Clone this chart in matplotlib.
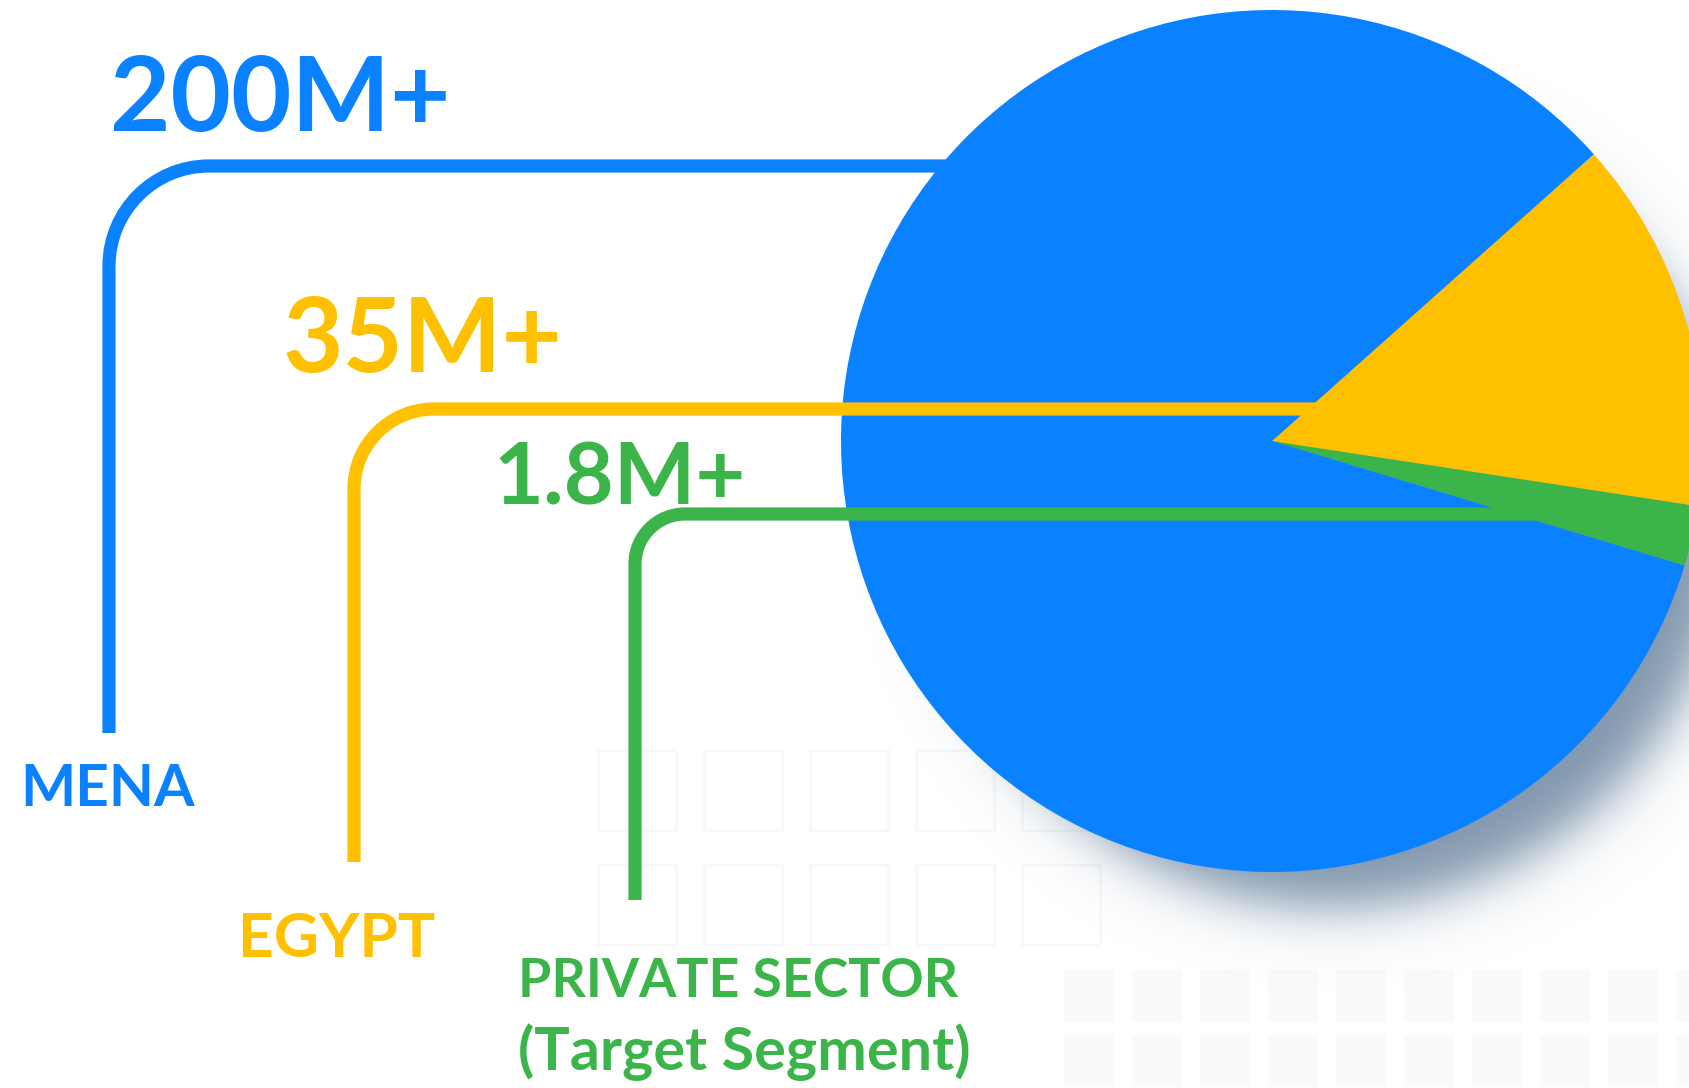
#!/usr/bin/env python3
"""Market size funnel: MENA -> Egypt -> private sector, with a pie on the right."""

import numpy as np
import matplotlib.pyplot as plt
from matplotlib.path import Path
from matplotlib.patches import PathPatch, Rectangle

W, H = 1690, 1088

segments = ["MENA", "EGYPT", "PRIVATE SECTOR"]
segment_notes = ["", "", "(Target Segment)"]
figures = ["200M+", "35M+", "1.8M+"]

# pie slices as drawn (degrees), counter-clockwise from the start angle
slice_names = ["PRIVATE SECTOR", "EGYPT", "MENA"]
slice_degrees = [8.1, 50.4, 301.5]
start_angle = -16.8

BLUE = "#0a82ff"
YELLOW = "#ffc000"
GREEN = "#3bb54a"
seg_colors = [BLUE, YELLOW, GREEN]
slice_colors = [GREEN, YELLOW, BLUE]

plt.rcParams["font.family"] = ["Lato", "DejaVu Sans"]


def Y(y):
    # image rows (top-down) to data coords (bottom-up)
    return H - y


def connector(x, y_bottom, y_top, x_end, r):
    k = 0.5523 * r
    verts = [(x, Y(y_bottom)), (x, Y(y_top + r)),
             (x, Y(y_top + r - k)), (x + r - k, Y(y_top)), (x + r, Y(y_top)),
             (x_end, Y(y_top))]
    codes = [Path.MOVETO, Path.LINETO, Path.CURVE4, Path.CURVE4, Path.CURVE4, Path.LINETO]
    return Path(verts, codes)


fig = plt.figure(figsize=(W / 100, H / 100), dpi=100)
ax = fig.add_axes([0, 0, 1, 1])
fig.patch.set_facecolor("white")

# faint circuit-board background
for row in (970, 1035):
    for x0 in np.arange(1064, W, 68):
        ax.add_patch(Rectangle((x0, Y(row + 52)), 50, 52, facecolor="#f9fafb",
                               edgecolor="none", zorder=0))
for top in (750, 865):
    for x0 in np.arange(598, 1100, 106):
        ax.add_patch(Rectangle((x0, Y(top + 80)), 78, 80, facecolor="none",
                               edgecolor="#f7f8f9", linewidth=2, zorder=0))

# pie geometry (pixels)
cx, cy, R = 1272, 441, 431

# soft drop shadow, bottom right
xs = np.arange(780, W) + 0.5
ys = np.arange(0, H) + 0.5
gx, gy = np.meshgrid(xs, ys)
d = np.hypot(gx - (cx + 60), gy - (cy + 70))
alpha = 0.8 * 0.5 * (1 - np.tanh((d - (R - 35)) / 32))
shadow = np.zeros(gx.shape + (4,))
shadow[..., 0], shadow[..., 1], shadow[..., 2] = 0.38, 0.49, 0.60
shadow[..., 3] = alpha
ax.imshow(shadow, extent=(780, W, 0, H), origin="upper", zorder=1, interpolation="bilinear")

ax.pie(slice_degrees, colors=slice_colors, startangle=start_angle, counterclock=True,
       center=(cx, Y(cy)), radius=R, wedgeprops=dict(linewidth=0))
for w in ax.patches[-3:]:
    w.set_zorder(2)

# connectors: x, bottom, top, end, corner radius
conn = [(109, 733, 166, 1000, 100), (354, 862, 409, 1330, 80), (635, 900, 514, 1600, 50)]
for (x, yb, yt, xe, r), c in zip(conn, seg_colors):
    ax.add_patch(PathPatch(connector(x, yb, yt, xe, r), fill=False, edgecolor=c,
                           linewidth=9.5, capstyle="butt", joinstyle="round", zorder=3))

renderer = fig.canvas.get_renderer()


def fit_text(x, y_base, s, width, color, size):
    t = ax.text(x, Y(y_base), s, fontsize=size, fontweight="bold", color=color,
                ha="left", va="baseline", zorder=4)
    bb = t.get_window_extent(renderer)
    t.set_fontsize(size * width / bb.width)
    return t


# big figures: left, baseline, width
fig_pos = [(110, 131, 340), (283, 372, 280), (493, 504, 252)]
for (x, yb, w), s, c in zip(fig_pos, figures, seg_colors):
    fit_text(x, yb, s, w, c, 76)

seg_pos = [(20, 806, 174), (238, 957, 197), (518, 997, 440)]
for (x, yb, w), s, c in zip(seg_pos, segments, seg_colors):
    fit_text(x, yb, s, w, c, 44)
fit_text(518, 1070, segment_notes[2], 452, GREEN, 44)

ax.set_xlim(0, W)
ax.set_ylim(0, H)
ax.set_aspect("equal")
ax.set_axis_off()

fig.savefig("out.png", dpi=100)
